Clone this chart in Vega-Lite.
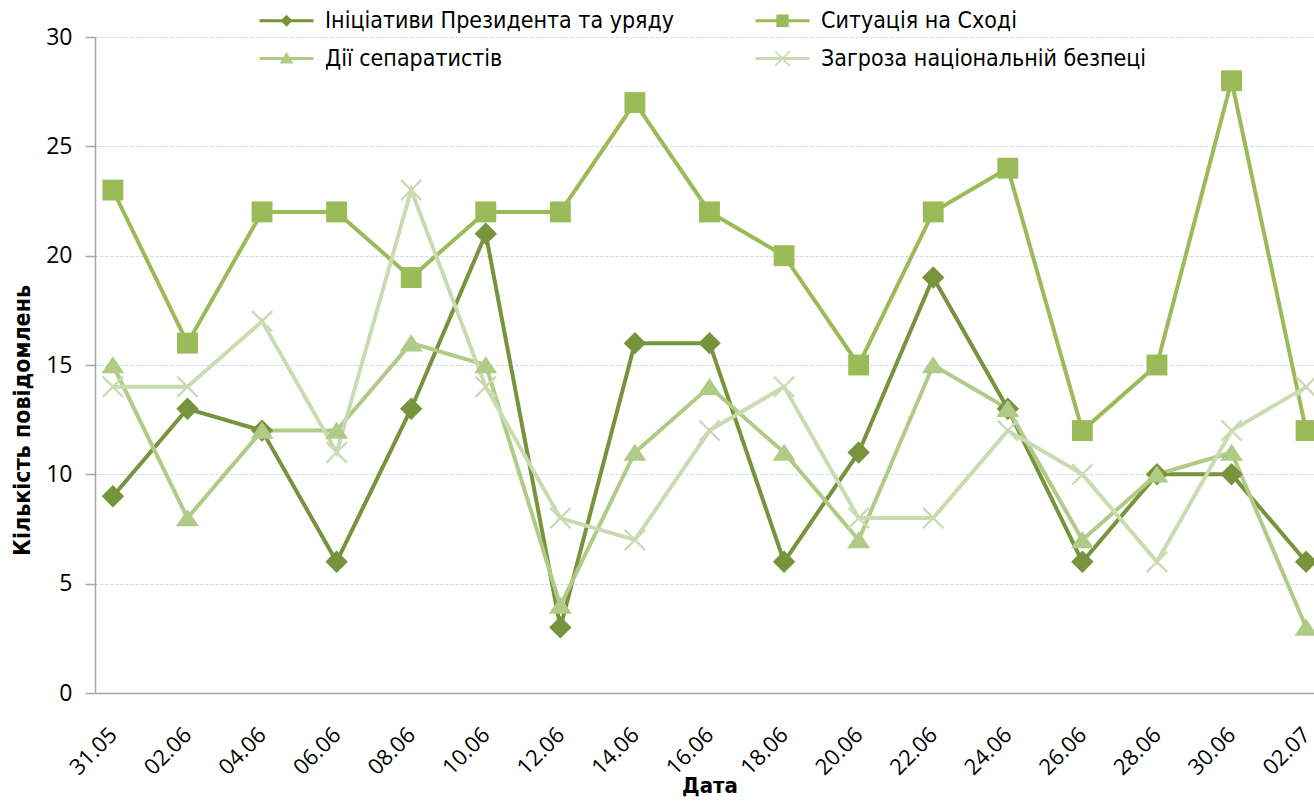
{
  "$schema": "https://vega.github.io/schema/vega-lite/v6.json",
  "width": 1229,
  "height": 656,
  "autosize": {"type": "none"},
  "padding": {"left": 95, "top": 37, "right": 0, "bottom": 109},
  "background": "white",
  "config": {"view": {"stroke": null}},
  "data": {"values": [
    {"date":"31.05","series":"Ініціативи Президента та уряду","count":9},
    {"date":"02.06","series":"Ініціативи Президента та уряду","count":13},
    {"date":"04.06","series":"Ініціативи Президента та уряду","count":12},
    {"date":"06.06","series":"Ініціативи Президента та уряду","count":6},
    {"date":"08.06","series":"Ініціативи Президента та уряду","count":13},
    {"date":"10.06","series":"Ініціативи Президента та уряду","count":21},
    {"date":"12.06","series":"Ініціативи Президента та уряду","count":3},
    {"date":"14.06","series":"Ініціативи Президента та уряду","count":16},
    {"date":"16.06","series":"Ініціативи Президента та уряду","count":16},
    {"date":"18.06","series":"Ініціативи Президента та уряду","count":6},
    {"date":"20.06","series":"Ініціативи Президента та уряду","count":11},
    {"date":"22.06","series":"Ініціативи Президента та уряду","count":19},
    {"date":"24.06","series":"Ініціативи Президента та уряду","count":13},
    {"date":"26.06","series":"Ініціативи Президента та уряду","count":6},
    {"date":"28.06","series":"Ініціативи Президента та уряду","count":10},
    {"date":"30.06","series":"Ініціативи Президента та уряду","count":10},
    {"date":"02.07","series":"Ініціативи Президента та уряду","count":6},
    {"date":"31.05","series":"Ситуація на Сході","count":23},
    {"date":"02.06","series":"Ситуація на Сході","count":16},
    {"date":"04.06","series":"Ситуація на Сході","count":22},
    {"date":"06.06","series":"Ситуація на Сході","count":22},
    {"date":"08.06","series":"Ситуація на Сході","count":19},
    {"date":"10.06","series":"Ситуація на Сході","count":22},
    {"date":"12.06","series":"Ситуація на Сході","count":22},
    {"date":"14.06","series":"Ситуація на Сході","count":27},
    {"date":"16.06","series":"Ситуація на Сході","count":22},
    {"date":"18.06","series":"Ситуація на Сході","count":20},
    {"date":"20.06","series":"Ситуація на Сході","count":15},
    {"date":"22.06","series":"Ситуація на Сході","count":22},
    {"date":"24.06","series":"Ситуація на Сході","count":24},
    {"date":"26.06","series":"Ситуація на Сході","count":12},
    {"date":"28.06","series":"Ситуація на Сході","count":15},
    {"date":"30.06","series":"Ситуація на Сході","count":28},
    {"date":"02.07","series":"Ситуація на Сході","count":12},
    {"date":"31.05","series":"Дії сепаратистів","count":15},
    {"date":"02.06","series":"Дії сепаратистів","count":8},
    {"date":"04.06","series":"Дії сепаратистів","count":12},
    {"date":"06.06","series":"Дії сепаратистів","count":12},
    {"date":"08.06","series":"Дії сепаратистів","count":16},
    {"date":"10.06","series":"Дії сепаратистів","count":15},
    {"date":"12.06","series":"Дії сепаратистів","count":4},
    {"date":"14.06","series":"Дії сепаратистів","count":11},
    {"date":"16.06","series":"Дії сепаратистів","count":14},
    {"date":"18.06","series":"Дії сепаратистів","count":11},
    {"date":"20.06","series":"Дії сепаратистів","count":7},
    {"date":"22.06","series":"Дії сепаратистів","count":15},
    {"date":"24.06","series":"Дії сепаратистів","count":13},
    {"date":"26.06","series":"Дії сепаратистів","count":7},
    {"date":"28.06","series":"Дії сепаратистів","count":10},
    {"date":"30.06","series":"Дії сепаратистів","count":11},
    {"date":"02.07","series":"Дії сепаратистів","count":3},
    {"date":"31.05","series":"Загроза національній безпеці","count":14},
    {"date":"02.06","series":"Загроза національній безпеці","count":14},
    {"date":"04.06","series":"Загроза національній безпеці","count":17},
    {"date":"06.06","series":"Загроза національній безпеці","count":11},
    {"date":"08.06","series":"Загроза національній безпеці","count":23},
    {"date":"10.06","series":"Загроза національній безпеці","count":14},
    {"date":"12.06","series":"Загроза національній безпеці","count":8},
    {"date":"14.06","series":"Загроза національній безпеці","count":7},
    {"date":"16.06","series":"Загроза національній безпеці","count":12},
    {"date":"18.06","series":"Загроза національній безпеці","count":14},
    {"date":"20.06","series":"Загроза національній безпеці","count":8},
    {"date":"22.06","series":"Загроза національній безпеці","count":8},
    {"date":"24.06","series":"Загроза національній безпеці","count":12},
    {"date":"26.06","series":"Загроза національній безпеці","count":10},
    {"date":"28.06","series":"Загроза національній безпеці","count":6},
    {"date":"30.06","series":"Загроза національній безпеці","count":12},
    {"date":"02.07","series":"Загроза національній безпеці","count":14}
  ]},
  "encoding": {
    "x": {
      "field": "date", "type": "ordinal", "sort": null,
      "scale": {"type": "point", "padding": 0.24},
      "axis": {
        "title": "Дата", "titleFont": "DejaVu Sans Condensed, Liberation Sans", "titleFontSize": 22, "titleFontWeight": "bold", "titleColor": "#000",
        "titleY": 92, "titleBaseline": "middle",
        "labelAngle": -45, "labelAlign": "right", "labelBaseline": "middle", "labelPadding": 38,
        "labelFont": "Open Sans", "labelFontSize": 22, "labelColor": "#000",
        "ticks": false, "domainColor": "#A6A6A6", "domainWidth": 1.5, "grid": false
      }
    },
    "y": {
      "field": "count", "type": "quantitative",
      "scale": {"domain": [0, 30], "nice": false},
      "axis": {
        "values": [0, 5, 10, 15, 20, 25, 30],
        "title": "Кількість повідомлень", "titleFont": "DejaVu Sans Condensed, Liberation Sans", "titleFontSize": 23, "titleFontWeight": "bold", "titleColor": "#000",
        "titleX": -73, "titleY": 383, "titleAngle": -90, "titleAlign": "center", "titleBaseline": "middle",
        "labelFont": "Open Sans", "labelFontSize": 23, "labelColor": "#000", "labelPadding": 13,
        "tickSize": 10, "tickColor": "#A6A6A6", "tickWidth": 1.5,
        "domainColor": "#A6A6A6", "domainWidth": 1.5,
        "gridColor": "#C6D6EE", "gridDash": [3, 2], "gridWidth": 1
      }
    }
  },
  "layer": [
    {
      "mark": {"type": "line", "strokeWidth": 4},
      "encoding": {
        "color": {"field": "series", "type": "nominal",
          "scale": {"domain": ["Ініціативи Президента та уряду", "Ситуація на Сході", "Дії сепаратистів", "Загроза національній безпеці"],
                    "range": ["#77933C", "#9BBB59", "#B0CB86", "#CADBB2"]},
          "legend": null},
        "order": {"value": null}
      }
    },
    {
      "mark": {"type": "point", "filled": true, "opacity": 1, "size": 484, "strokeWidth": 0},
      "encoding": {
        "color": {"field": "series", "type": "nominal",
          "scale": {"domain": ["Ініціативи Президента та уряду", "Ситуація на Сході", "Дії сепаратистів", "Загроза національній безпеці"],
                    "range": ["#77933C", "#9BBB59", "#B0CB86", "#CADBB2"]},
          "legend": null},
        "shape": {"field": "series", "type": "nominal",
          "scale": {"domain": ["Ініціативи Президента та уряду", "Ситуація на Сході", "Дії сепаратистів", "Загроза національній безпеці"],
                    "range": [
                      "M0,-1.02L1.02,0L0,1.02L-1.02,0Z",
                      "M-0.95,-0.95H0.95V0.95H-0.95Z",
                      "M0,-0.8L1.05,0.75H-1.05Z",
                      "M-1,-0.85L-0.85,-1L0,-0.15L0.85,-1L1,-0.85L0.15,0L1,0.85L0.85,1L0,0.15L-0.85,1L-1,0.85L-0.15,0Z"
                    ]},
          "legend": null}
      }
    },
    {
      "transform": [{"filter": "false"}],
      "mark": {"type": "point", "filled": true, "strokeWidth": 0},
      "encoding": {
        "fill": {"field": "series", "type": "nominal",
          "scale": {"domain": ["Ініціативи Президента та уряду", "Ситуація на Сході", "Дії сепаратистів", "Загроза національній безпеці"],
                    "range": ["#77933C", "#9BBB59", "#B0CB86", "#CADBB2"]},
          "legend": {"title": null}},
        "shape": {"field": "series", "type": "nominal",
          "scale": {"domain": ["Ініціативи Президента та уряду", "Ситуація на Сході", "Дії сепаратистів", "Загроза національній безпеці"],
                    "range": [
                      "M-2.7,-0.15H2.7V0.15H-2.7Z M0,-0.6L0.6,0L0,0.6L-0.6,0Z",
                      "M-2.7,-0.15H2.7V0.15H-2.7Z M-0.62,-0.62H0.62V0.62H-0.62Z",
                      "M-2.7,-0.15H2.7V0.15H-2.7Z M0,-0.65L0.7,0.5H-0.7Z",
                      "M-2.7,-0.15H2.7V0.15H-2.7Z M-0.8,-0.68L-0.68,-0.8L0,-0.12L0.68,-0.8L0.8,-0.68L0.12,0L0.8,0.68L0.68,0.8L0,0.12L-0.68,0.8L-0.8,0.68L-0.12,0Z"
                    ]},
          "legend": {
            "title": null, "orient": "none", "legendX": 180, "legendY": -28,
            "direction": "horizontal", "columns": 2, "columnPadding": 80, "rowPadding": 14, "padding": 0,
            "symbolSize": 400, "symbolStrokeWidth": 0, "symbolOpacity": 1,
            "labelFont": "DejaVu Sans Condensed, Liberation Sans", "labelFontSize": 23, "labelColor": "#000", "labelOffset": 27, "labelLimit": 0
          }}
      }
    }
  ],
  "resolve": {"scale": {"shape": "independent", "fill": "independent"}}
}
